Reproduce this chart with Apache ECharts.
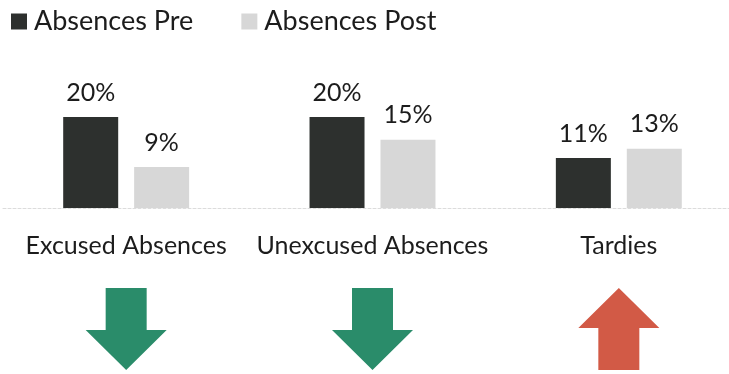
<!DOCTYPE html>
<html>
<head>
<meta charset="utf-8">
<style>
  html, body { margin: 0; padding: 0; background: #ffffff; }
  #chart { width: 729px; height: 374px; }
</style>
<script src="https://cdn.jsdelivr.net/npm/echarts@6/dist/echarts.min.js"></script>
</head>
<body>
<div id="chart"></div>
<script>
// Attendance categories and the pre/post percentages
const categories = ['Excused Absences', 'Unexcused Absences', 'Tardies'];
const seriesNames = ['Absences Pre', 'Absences Post'];
const preValues = [20, 20, 11];
const postValues = [9, 15, 13];

const FONT = 'Lato';
const TEXT_COLOR = '#1c1c1c';
const PRE_COLOR = '#2d302e';
const POST_COLOR = '#d7d7d7';
const DOWN_COLOR = '#2a8c6a';
const UP_COLOR = '#d25a46';

// One arrow per category: direction follows the change from pre to post
const arrowData = categories.map((c, i) => [i, 0, Math.sign(postValues[i] - preValues[i])]);

const chart = echarts.init(document.getElementById('chart'));

function renderArrow(params, api) {
  const base = api.coord([api.value(0), 0]);
  const cx = base[0];
  const dir = api.value(2);
  const top = base[1] + 80;
  const bottom = base[1] + 162;
  const shaftHalf = 20.5;
  const headHalf = 40.5;
  let points;
  if (dir < 0) {
    const headY = base[1] + 122;
    points = [
      [cx - shaftHalf, top], [cx + shaftHalf, top], [cx + shaftHalf, headY],
      [cx + headHalf, headY], [cx, bottom], [cx - headHalf, headY], [cx - shaftHalf, headY]
    ];
  } else {
    const headY = base[1] + 120;
    points = [
      [cx, top], [cx + headHalf, headY], [cx + shaftHalf, headY], [cx + shaftHalf, bottom],
      [cx - shaftHalf, bottom], [cx - shaftHalf, headY], [cx - headHalf, headY]
    ];
  }
  return {
    type: 'polygon',
    shape: { points: points },
    style: { fill: dir < 0 ? DOWN_COLOR : UP_COLOR }
  };
}

const labelStyle = {
  show: true,
  position: 'top',
  distance: 12,
  formatter: p => p.value + '%',
  fontFamily: FONT,
  fontSize: 25,
  color: TEXT_COLOR
};

chart.setOption({
  animation: false,
  backgroundColor: '#ffffff',
  textStyle: { fontFamily: FONT },
  legend: {
    data: seriesNames,
    left: 6,
    top: 3,
    icon: 'rect',
    itemWidth: 16,
    itemHeight: 16,
    itemGap: 48,
    textStyle: { fontFamily: FONT, fontSize: 27, color: TEXT_COLOR, padding: [0, 0, 0, 2] }
  },
  grid: {
    left: 3,
    width: 739,
    top: 117,
    height: 91,
    containLabel: false,
    outerBoundsMode: 'none'
  },
  xAxis: {
    type: 'category',
    data: categories,
    axisTick: { show: false },
    axisLine: { show: true, lineStyle: { color: '#dcdcdc', width: 1, type: [3, 2] } },
    axisLabel: {
      margin: 25,
      fontFamily: FONT,
      fontSize: 25,
      color: TEXT_COLOR,
      interval: 0
    }
  },
  yAxis: {
    type: 'value',
    min: 0,
    max: 20,
    show: false,
    splitLine: { show: false }
  },
  series: [
    {
      name: seriesNames[0],
      type: 'bar',
      data: preValues,
      barWidth: 55,
      barGap: '29%',
      itemStyle: { color: PRE_COLOR },
      label: labelStyle
    },
    {
      name: seriesNames[1],
      type: 'bar',
      data: postValues,
      barWidth: 55,
      barGap: '29%',
      itemStyle: { color: POST_COLOR },
      label: labelStyle
    },
    {
      name: 'change',
      type: 'custom',
      data: arrowData,
      encode: { x: 0, y: 1 },
      clip: false,
      silent: true,
      renderItem: renderArrow
    }
  ]
});
</script>
</body>
</html>
